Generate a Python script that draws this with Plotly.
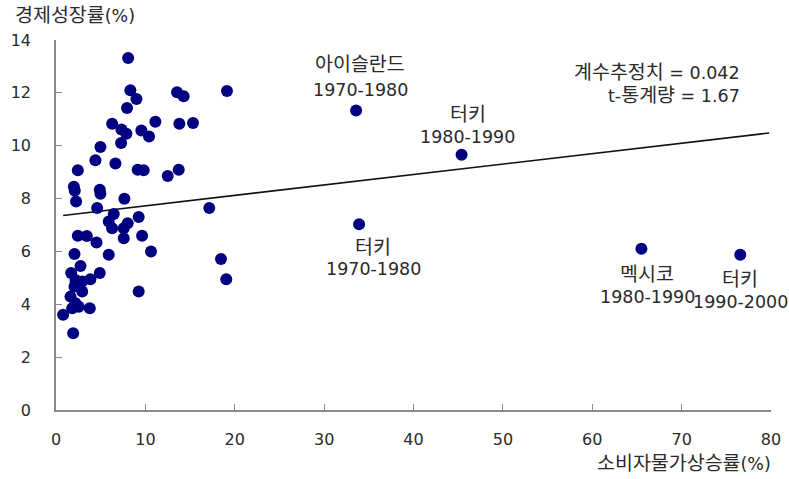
import plotly.graph_objects as go

# Consumer price inflation (%) and economic growth (%) per country-decade
inflation = [8.07, 8.32, 9.0, 7.95, 13.54, 14.28, 19.13, 6.28, 7.32, 7.88,
             7.28, 9.55, 10.41, 11.12, 13.8, 15.33, 4.97, 4.41, 6.65, 2.44,
             9.14, 9.81, 12.5, 13.73, 2.0, 2.1, 2.25, 4.9, 4.97, 7.65,
             4.6, 17.15, 6.46, 5.9, 6.28, 8.02, 7.58, 9.25, 7.58, 9.63,
             2.44, 3.45, 4.53, 10.63, 2.07, 5.9, 2.74, 1.7, 4.9, 2.18,
             2.93, 3.85, 2.07, 2.93, 1.62, 2.18, 2.55, 1.81, 3.78, 0.8,
             1.92, 9.25, 18.46, 19.05,
             33.58, 45.38, 33.91, 65.5, 76.56]
growth = [13.32, 12.10, 11.77, 11.43, 12.02, 11.87, 12.07, 10.83, 10.61, 10.45,
          10.10, 10.58, 10.35, 10.91, 10.83, 10.86, 9.95, 9.45, 9.33, 9.07,
          9.09, 9.07, 8.85, 9.09, 8.45, 8.30, 7.89, 8.33, 8.18, 7.99,
          7.64, 7.64, 7.42, 7.13, 6.88, 7.07, 6.88, 7.30, 6.50, 6.59,
          6.59, 6.58, 6.34, 6.00, 5.90, 5.87, 5.45, 5.18, 5.18, 4.92,
          4.86, 4.95, 4.67, 4.48, 4.29, 4.04, 3.91, 3.85, 3.85, 3.60,
          2.90, 4.48, 5.71, 4.95,
          11.33, 9.66, 7.03, 6.10, 5.87]

# Labelled outliers
label_names = ["아이슬란드", "터키", "터키", "멕시코", "터키"]
label_periods = ["1970-1980", "1980-1990", "1970-1980", "1980-1990", "1990-2000"]
label_x = [33.58, 45.38, 33.91, 65.5, 76.56]
label_y = [11.33, 9.66, 7.03, 6.10, 5.87]
# (x shift, name line y shift, period line y shift) in pixels
label_shift = [(4, 46, 21), (6, 40, 18), (14, -23, -45), (6, -26, -48), (0, -25, -47)]

# Regression line
trend_intercept = 7.33
trend_slope = 0.0395
trend_x = [0.8, 79.8]
trend_y = [trend_intercept + trend_slope * v for v in trend_x]

coef_label, coef_value = "계수추정치", "0.042"
tstat_label, tstat_value = "t-통계량", "1.67"
y_title = "경제성장률"
x_title = "소비자물가상승률"

x_ticks = [0, 10, 20, 30, 40, 50, 60, 70, 80]
y_ticks = [0, 2, 4, 6, 8, 10, 12, 14]

FONT = "DejaVu Sans, Noto Sans CJK KR, sans-serif"
TXT = "#2a2a2a"
FS = 17.5      # latin / digits
KS = 19.5      # hangul


def k(s, size=KS):
    return f"<span style='font-size:{size}px'>{s}</span>"


# plot-area geometry in pixels (used only to place paper-referenced texts)
L, R, T, B, W, H = 55.5, 17.5, 40, 69, 789, 479
PW, PH = W - L - R, H - T - B


def px_x(p):
    return (p - L) / PW


def px_y(p):
    return (H - B - p) / PH


fig = go.Figure()
fig.add_trace(go.Scatter(x=trend_x, y=trend_y, mode="lines",
                         line=dict(color="#111111", width=1.6),
                         hoverinfo="skip", cliponaxis=False))
fig.add_trace(go.Scatter(x=inflation, y=growth, mode="markers",
                         marker=dict(color="#000080", size=12, line=dict(width=0)),
                         cliponaxis=False))

for name, period, lx, ly, (dx, dyn, dyp) in zip(label_names, label_periods, label_x, label_y, label_shift):
    fig.add_annotation(x=lx, y=ly, xref="x", yref="y", text=k(name),
                       showarrow=False, xshift=dx, yshift=dyn,
                       font=dict(family=FONT, size=FS, color=TXT))
    fig.add_annotation(x=lx, y=ly, xref="x", yref="y", text=period,
                       showarrow=False, xshift=dx, yshift=dyp,
                       font=dict(family=FONT, size=FS, color=TXT))

fig.add_annotation(x=px_x(742), y=px_y(72), xref="paper", yref="paper",
                   xanchor="right", yanchor="middle", showarrow=False,
                   text=f"{k(coef_label)} = {coef_value}",
                   font=dict(family=FONT, size=FS, color=TXT))
fig.add_annotation(x=px_x(742), y=px_y(95), xref="paper", yref="paper",
                   xanchor="right", yanchor="middle", showarrow=False,
                   text=f"t-{k(tstat_label[2:])} = {tstat_value}",
                   font=dict(family=FONT, size=FS, color=TXT))

fig.add_annotation(x=px_x(12), y=px_y(15), xref="paper", yref="paper",
                   xanchor="left", yanchor="middle", showarrow=False,
                   text=f"{k(y_title, 19.5)}(%)", font=dict(family=FONT, size=FS, color=TXT))
fig.add_annotation(x=px_x(774), y=px_y(463), xref="paper", yref="paper",
                   xanchor="right", yanchor="middle", showarrow=False,
                   text=f"{k(x_title, 19.5)}(%)", font=dict(family=FONT, size=FS, color=TXT))

axis_common = dict(showgrid=False, zeroline=False, showline=True, linecolor="#8a8a8a",
                   linewidth=1.5, ticks="inside", ticklen=6, tickcolor="#8a8a8a",
                   tickwidth=1.2, automargin=False,
                   tickfont=dict(family=FONT, size=16, color=TXT))

fig.update_xaxes(range=[0, 80], tickvals=x_ticks, ticklabelstandoff=14, **axis_common)
fig.update_yaxes(range=[0, 14], tickvals=y_ticks, ticklabelstandoff=20, **axis_common)

fig.update_layout(width=W, height=H, showlegend=False,
                  margin=dict(l=L, r=R, t=T, b=B, pad=0, autoexpand=False),
                  plot_bgcolor="white", paper_bgcolor="white")

fig.write_html("out.html", config={"displayModeBar": False},
               post_script="document.body.style.margin='0';")
